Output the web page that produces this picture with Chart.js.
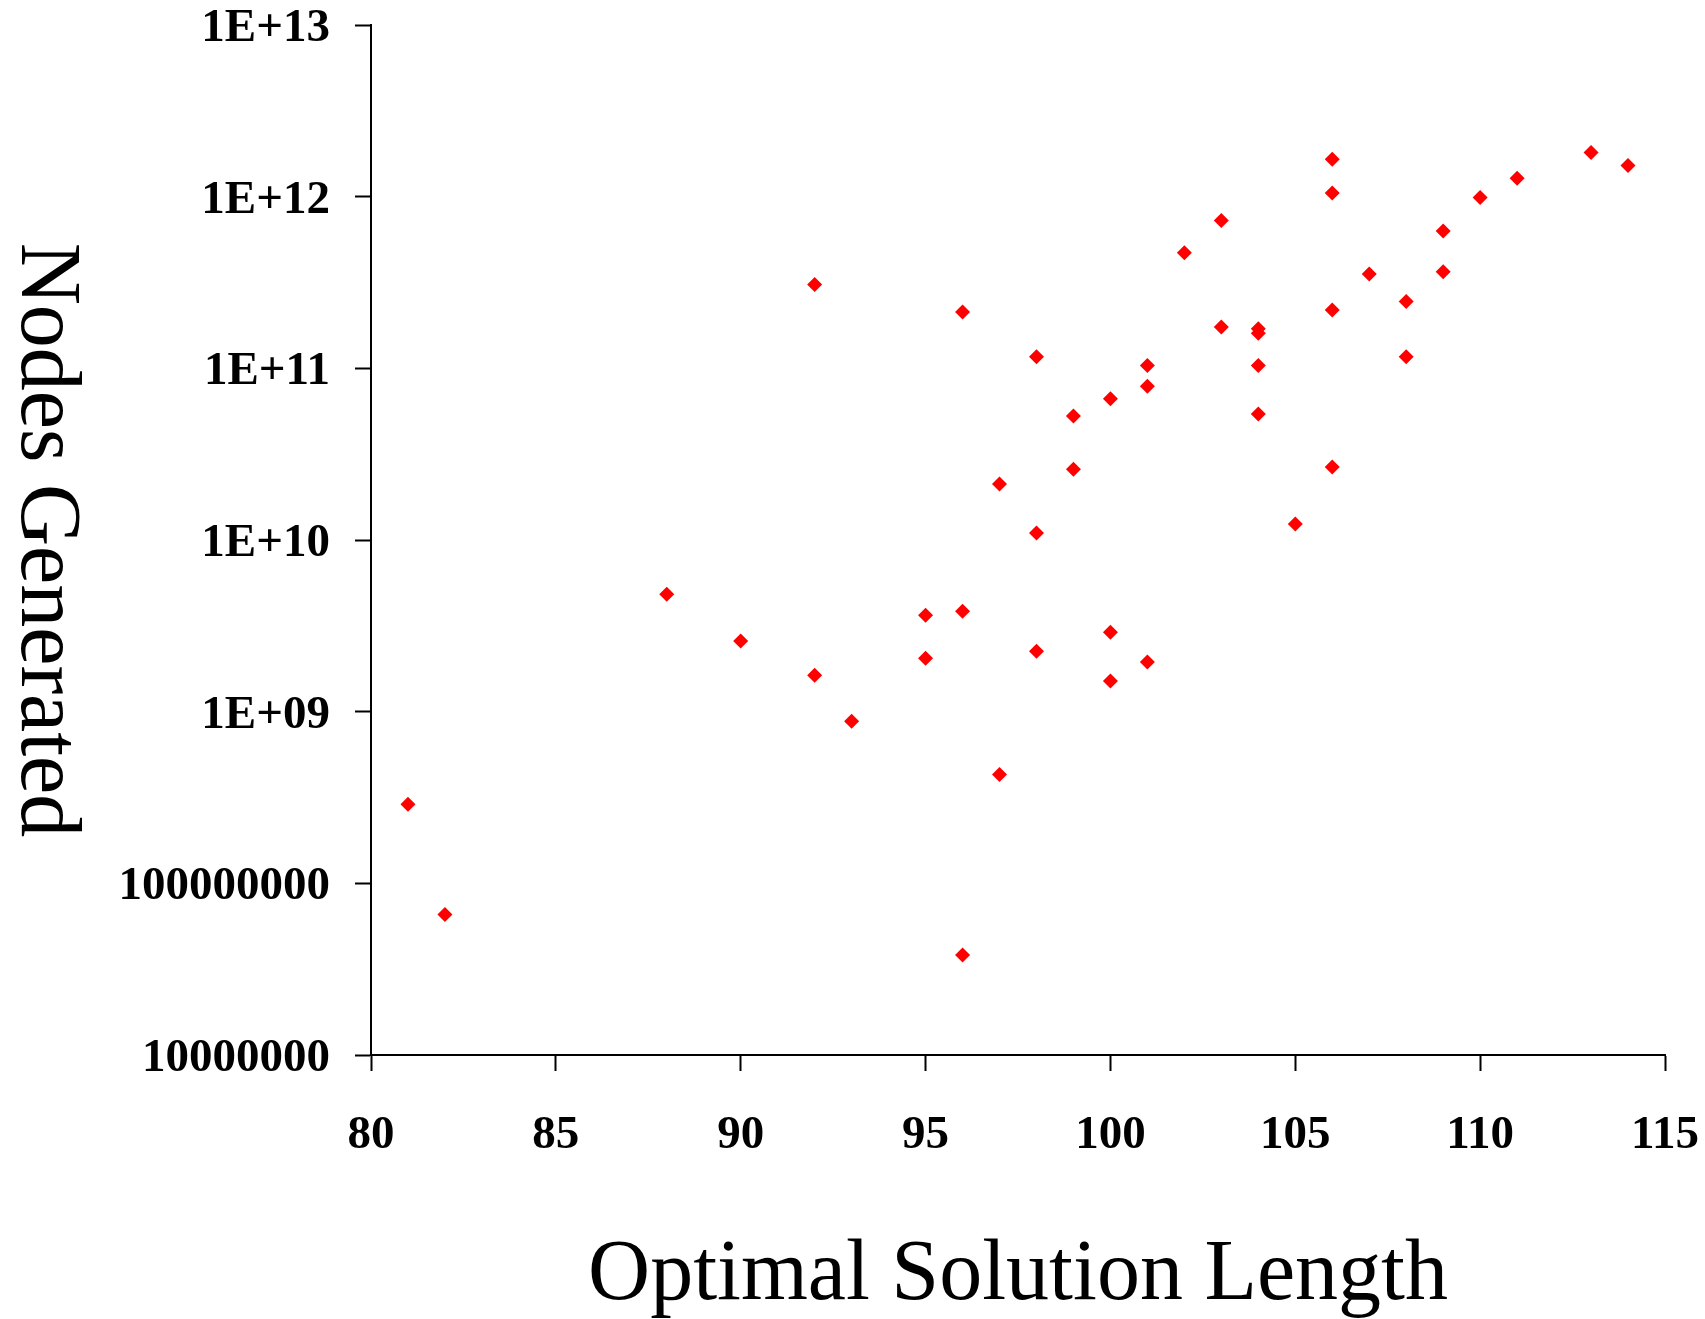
<!DOCTYPE html>
<html>
<head>
<meta charset="utf-8">
<script src="https://cdn.jsdelivr.net/npm/chart.js@4/dist/chart.umd.min.js"></script>
<style>
  html, body { margin: 0; padding: 0; background: #ffffff; }
  #wrap { width: 1705px; height: 1319px; }
</style>
</head>
<body>
<div id="wrap"><canvas id="c" width="1705" height="1319"></canvas></div>
<script>
// Optimal solution length (x) and nodes generated (y), one entry per problem instance
const solutionLength = [
  81, 82, 88, 90, 92, 92, 93, 95, 95, 96, 96, 96,
  97, 97, 98, 98, 98, 99, 99, 100, 100, 100, 101, 101, 101,
  102, 103, 103, 104, 104, 104, 104, 105, 106, 106, 106, 106,
  107, 108, 108, 109, 109, 110, 111, 113, 114
];
const nodesGenerated = [
  2.89e8, 6.58e7, 4.83e9, 2.58e9, 3.08e11, 1.63e9, 8.78e8, 3.64e9, 2.05e9, 2.13e11, 3.84e9, 3.83e7,
  2.12e10, 4.31e8, 1.17e11, 1.10e10, 2.25e9, 5.28e10, 2.58e10, 6.64e10, 2.90e9, 1.51e9, 1.04e11, 7.87e10, 1.95e9,
  4.71e11, 7.27e11, 1.74e11, 1.70e11, 1.60e11, 1.04e11, 5.42e10, 1.24e10, 1.65e12, 1.05e12, 2.19e11, 2.66e10,
  3.55e11, 2.45e11, 1.17e11, 6.30e11, 3.65e11, 9.90e11, 1.28e12, 1.81e12, 1.52e12
];

// Axis ticks and their labels
const xTicks = [80, 85, 90, 95, 100, 105, 110, 115];
const yTicks = [1e7, 1e8, 1e9, 1e10, 1e11, 1e12, 1e13];
const yTickLabels = ['10000000', '100000000', '1E+09', '1E+10', '1E+11', '1E+12', '1E+13'];

const xTitle = 'Optimal Solution Length';
const yTitle = 'Nodes Generated';

const points = solutionLength.map((x, i) => ({ x: x, y: nodesGenerated[i] }));

const tickFont = { family: '"Liberation Serif", "Times New Roman", serif', size: 47, weight: 'bold', lineHeight: 1 };
const titleFont = { family: '"Liberation Serif", "Times New Roman", serif', size: 86, weight: 'normal', lineHeight: 0.98 };

const yTitlePlugin = {
  id: 'yTitlePlugin',
  afterDraw(chart) {
    const ctx = chart.ctx;
    const area = chart.chartArea;
    ctx.save();
    ctx.translate(45, (area.top + area.bottom) / 2);
    ctx.rotate(Math.PI / 2);
    ctx.font = '86px "Liberation Serif", "Times New Roman", serif';
    ctx.fillStyle = '#000000';
    ctx.textAlign = 'center';
    ctx.textBaseline = 'middle';
    ctx.fillText(yTitle, 0, 0);
    ctx.restore();
  }
};

new Chart(document.getElementById('c'), {
  type: 'scatter',
  data: {
    datasets: [{
      label: yTitle,
      data: points,
      pointStyle: 'rectRot',
      pointRadius: 7.5,
      pointHoverRadius: 7.5,
      backgroundColor: '#ff0000',
      borderColor: '#ff0000',
      borderWidth: 0
    }]
  },
  options: {
    responsive: false,
    animation: false,
    devicePixelRatio: 1,
    layout: { padding: { top: 25, right: 40, bottom: 0, left: 0 } },
    plugins: {
      legend: { display: false },
      tooltip: { enabled: false },
      title: { display: false }
    },
    scales: {
      x: {
        type: 'linear',
        position: 'bottom',
        min: 80,
        max: 115,
        afterBuildTicks: (scale) => { scale.ticks = xTicks.map(v => ({ value: v })); },
        afterFit: (scale) => {
          scale.height = 264;
          scale.paddingLeft = 0;
          scale.paddingRight = 0;
        },
        grid: {
          display: true,
          drawOnChartArea: false,
          drawTicks: true,
          tickLength: 16,
          tickWidth: 2,
          tickColor: '#000000'
        },
        border: { display: true, color: '#000000', width: 2 },
        ticks: {
          color: '#000000',
          font: tickFont,
          padding: 41,
          maxRotation: 0,
          autoSkip: false,
          callback: (v) => String(v)
        },
        title: {
          display: true,
          text: xTitle,
          color: '#000000',
          font: titleFont,
          padding: { top: 0, bottom: 0 }
        }
      },
      y: {
        type: 'logarithmic',
        position: 'left',
        min: 1e7,
        max: 1e13,
        afterBuildTicks: (scale) => { scale.ticks = yTicks.map(v => ({ value: v })); },
        afterFit: (scale) => {
          scale.width = 371;
          scale.paddingTop = 0;
          scale.paddingBottom = 0;
        },
        grid: {
          display: true,
          drawOnChartArea: false,
          drawTicks: true,
          tickLength: 16,
          tickWidth: 2,
          tickColor: '#000000'
        },
        border: { display: true, color: '#000000', width: 2 },
        ticks: {
          color: '#000000',
          font: tickFont,
          padding: 25,
          labelOffset: 4,
          autoSkip: false,
          callback: (v) => {
            const i = yTicks.findIndex(t => Math.abs(Math.log10(t) - Math.log10(v)) < 1e-6);
            return i >= 0 ? yTickLabels[i] : '';
          }
        }
      }
    }
  },
  plugins: [yTitlePlugin]
});
</script>
</body>
</html>
